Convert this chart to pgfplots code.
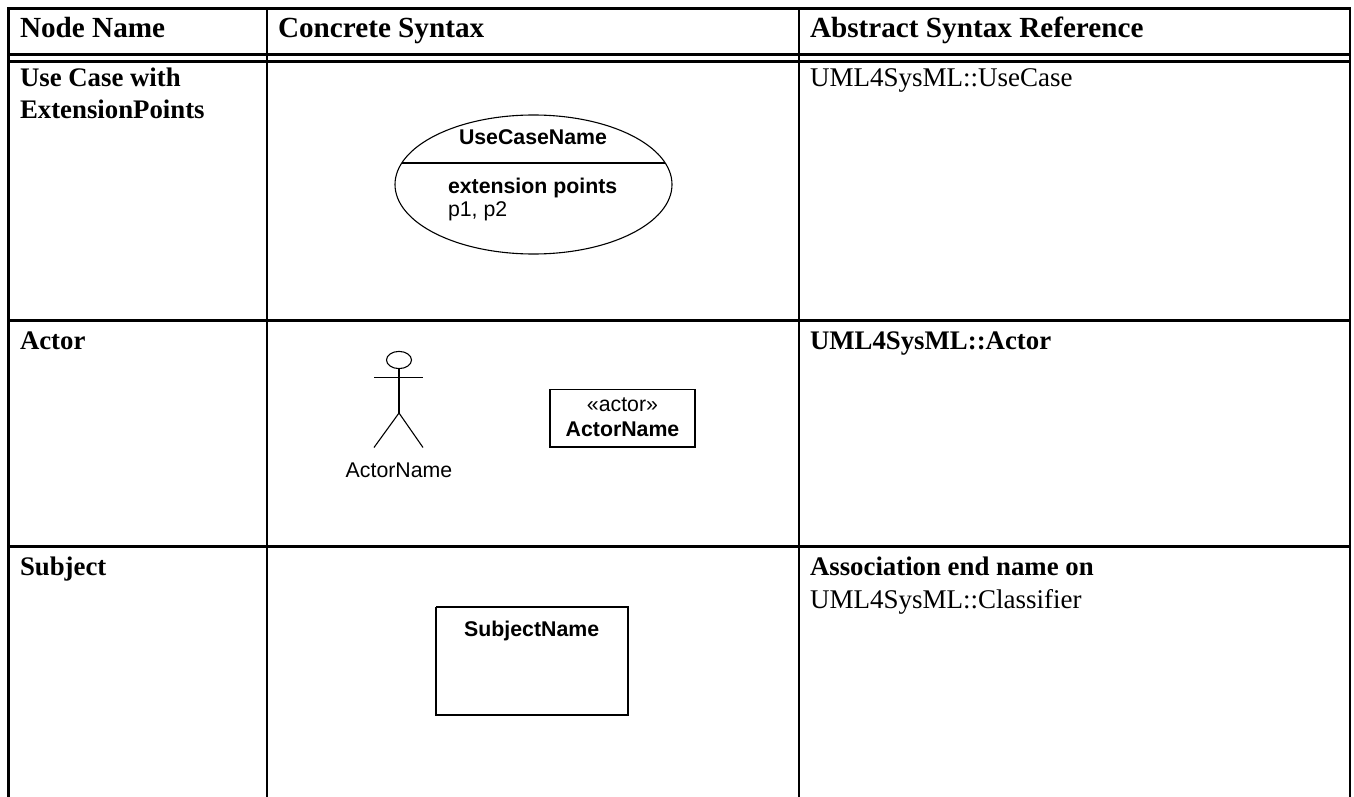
\documentclass[border=0pt]{standalone}
\usepackage{pgfplots}
\pgfplotsset{compat=1.18}
\usepackage{fontspec}
\setmainfont{Liberation Serif}
\newfontfamily\arial{Liberation Sans}
\newcommand{\hd}[1]{{\fontsize{29.2}{32}\selectfont\bfseries #1}}
\newcommand{\bd}[1]{{\fontsize{26.8}{32}\selectfont\bfseries #1}}
\newcommand{\ar}[1]{{\fontsize{21.3}{26}\selectfont\arial #1}}
\newcommand{\tm}[1]{{\fontsize{27}{32}\selectfont #1}}
\begin{document}
\begin{tikzpicture}[x=1pt,y=1pt]
\useasboundingbox (0,0) rectangle (1354pt,797pt);
\begin{axis}[
  at={(0,0)}, anchor=south west,
  scale only axis, width=1354pt, height=797pt,
  xmin=0, xmax=1354, ymin=0, ymax=797, y dir=reverse,
  hide axis, clip=false,
  tbl/.style={black, mark=none, line width=2.5pt},
  thn/.style={black, mark=none, line width=1.1pt},
  box/.style={black, mark=none, line width=1.6pt},
  nodes={inner sep=0pt, outer sep=0pt},
]
% table frame
\addplot[tbl, line join=miter] coordinates {(8.5,797) (8.5,8.5) (1350,8.5) (1350,797)};
\addplot[tbl] coordinates {(8.5,54.5) (1350,54.5)};
\addplot[tbl] coordinates {(8.5,61.5) (1350,61.5)};
\addplot[tbl] coordinates {(8.5,320.7) (1350,320.7)};
\addplot[tbl] coordinates {(8.5,546.7) (1350,546.7)};
\addplot[tbl] coordinates {(267,8.5) (267,797)};
\addplot[tbl] coordinates {(799,8.5) (799,797)};
% use case
\draw[line width=1.1pt] (axis cs:533.5,184.5) ellipse [x radius=138.5pt, y radius=69.5pt];
\addplot[thn] coordinates {(402,163) (665,163)};
% actor
\draw[line width=1.1pt] (axis cs:399,360) ellipse [x radius=12.5pt, y radius=8.6pt];
\addplot[thn, line width=1.4pt] coordinates {(399,369) (399,413)};
\addplot[thn] coordinates {(374,377.7) (423,377.7)};
\addplot[thn] coordinates {(374,447.5) (399,413) (423,447.5)};
\addplot[box] coordinates {(550,389.3) (695,389.3) (695,446.7) (550,446.7) (550,389.3)};
% subject
\addplot[box] coordinates {(436,607) (628,607) (628,715) (436,715) (436,607)};
% text
\node[anchor=base west] at (axis cs:20,37.7) {\hd{Node Name}};
\node[anchor=base west] at (axis cs:278,37.7) {\hd{Concrete Syntax}};
\node[anchor=base west] at (axis cs:810,37.7) {\hd{Abstract Syntax Reference}};
\node[anchor=base west] at (axis cs:20,87) {\bd{Use Case with}};
\node[anchor=base west] at (axis cs:20,119) {\bd{ExtensionPoints}};
\node[anchor=base west] at (axis cs:20,349) {\bd{Actor}};
\node[anchor=base west] at (axis cs:20,575) {\bd{Subject}};
\node[anchor=base west] at (axis cs:810,87) {\tm{UML4SysML::UseCase}};
\node[anchor=base west] at (axis cs:810,349) {\bd{UML4SysML::Actor}};
\node[anchor=base west] at (axis cs:810,575) {\bd{Association end name on}};
\node[anchor=base west] at (axis cs:810,608) {\tm{UML4SysML::Classifier}};
\node[anchor=base] at (axis cs:533,145) {\ar{\bfseries UseCaseName}};
\node[anchor=base west] at (axis cs:448,193) {\ar{\bfseries extension points}};
\node[anchor=base west] at (axis cs:448,216.7) {\ar{p1, p2}};
\node[anchor=base] at (axis cs:399,477) {\ar{ActorName}};
\node[anchor=base] at (axis cs:622.5,411.7) {\ar{«actor»}};
\node[anchor=base] at (axis cs:622.5,436.7) {\ar{\bfseries ActorName}};
\node[anchor=base] at (axis cs:531.7,636) {\ar{\bfseries SubjectName}};
\end{axis}
\end{tikzpicture}
\end{document}
